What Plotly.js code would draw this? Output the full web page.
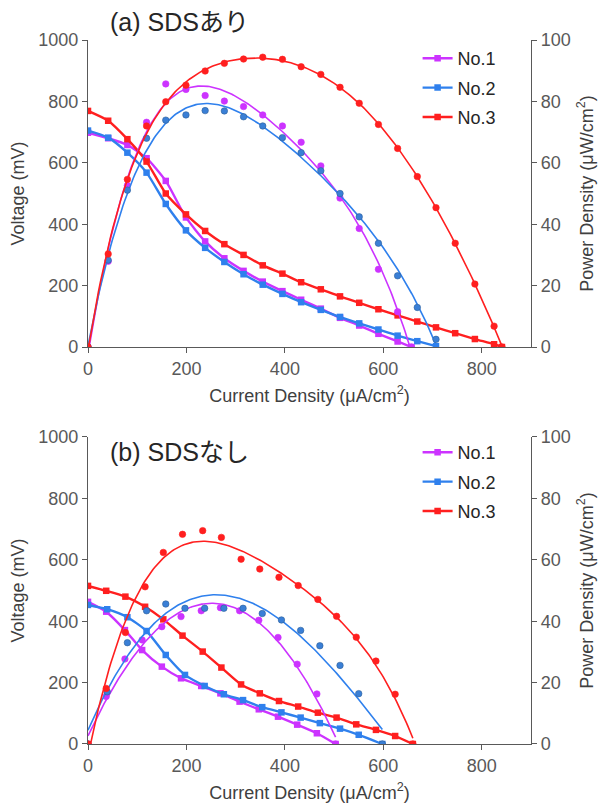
<!DOCTYPE html>
<html>
<head>
<meta charset="utf-8">
<script src="https://cdn.plot.ly/plotly-3.0.1.min.js"></script>
<style>html,body{margin:0;padding:0;background:#fff;}#chart{width:603px;height:807px;}</style>
</head>
<body>
<div id="chart"></div>
<script>
const seriesNames = ['No.1', 'No.2', 'No.3'];
const panelTitles = ['(a) SDSあり', '(b) SDSなし'];

// ---------- (a) SDSあり ----------
const a1Current = [0, 41, 80, 119, 158, 199, 238, 277, 316, 355, 395, 433, 473, 512, 551, 590, 629, 657];
const a1Voltage = [698, 680, 658, 615, 541, 422, 344, 289, 248, 213, 182, 154, 125, 95, 70, 43, 18, 0];
const a1Power   = [0, 27.9, 52.6, 73.2, 85.7, 83.9, 81.9, 80.1, 78.3, 75.6, 72.0, 66.7, 59.0, 48.5, 38.6, 25.3, 11.5, 0];

const a2Current = [0, 41, 80, 119, 158, 199, 238, 277, 316, 355, 395, 433, 473, 512, 551, 590, 629, 669, 707];
const a2Voltage = [705, 682, 633, 568, 466, 380, 323, 277, 237, 203, 173, 146, 121, 98, 77, 57, 37, 19, 3];
const a2Power   = [0, 28.3, 51.1, 68.0, 73.9, 75.6, 77.0, 76.9, 75.0, 72.0, 68.2, 63.3, 57.4, 50.0, 42.4, 33.8, 23.2, 12.9, 2.5];

const a3Current = [0, 41, 80, 119, 158, 199, 238, 277, 316, 355, 395, 433, 473, 512, 551, 590, 629, 669, 707, 746, 786, 825, 841];
const a3Voltage = [769, 737, 677, 604, 500, 432, 378, 335, 300, 266, 239, 211, 188, 165, 144, 123, 103, 83, 64, 45, 26, 9, 0];
const a3Power   = [0, 30.3, 54.6, 72.0, 79.9, 85.3, 89.9, 92.4, 93.8, 94.4, 93.7, 91.3, 88.8, 84.6, 79.4, 72.5, 64.7, 55.5, 45.4, 33.8, 20.5, 6.8, 0];

// ---------- (b) SDSなし ----------
const b1Current = [0, 37, 75, 110, 150, 189, 230, 269, 308, 347, 386, 425, 465, 503];
const b1Voltage = [463, 431, 371, 306, 252, 214, 189, 165, 138, 113, 89, 63, 35, 0];
const b1Power   = [0, 15.5, 27.7, 33.9, 38.2, 41.5, 43.4, 44.4, 43.4, 40.3, 34.7, 26.0, 16.3, 0];

const b2Current = [0, 39, 80, 119, 158, 197, 237, 276, 315, 354, 393, 432, 471, 512, 550, 598];
const b2Voltage = [453, 439, 413, 368, 290, 225, 189, 162, 143, 120, 103, 86, 68, 50, 30, 0];
const b2Power   = [0, 17.0, 33.0, 43.4, 45.6, 44.2, 44.2, 44.2, 44.2, 42.5, 40.4, 37.0, 32.0, 25.6, 16.4, 0];

const b3Current = [0, 37, 76, 116, 153, 192, 233, 271, 311, 349, 388, 427, 467, 505, 545, 585, 624, 660];
const b3Voltage = [515, 499, 480, 447, 406, 353, 301, 249, 194, 165, 140, 122, 102, 86, 64, 46, 26, 0];
const b3Power   = [0, 18.1, 36.3, 51.2, 62.4, 68.3, 69.5, 67.3, 60.2, 57.0, 54.3, 51.6, 47.1, 41.6, 34.8, 27.0, 16.2, 0];

const xTicks = [0, 200, 400, 600, 800];
const vTicks = [0, 200, 400, 600, 800, 1000];
const pTicks = [0, 20, 40, 60, 80, 100];

const colors = ['#cc33ff', '#2f80ed', '#ff1f1f'];
const dotColors = ['#cc33ff', '#3a7fd6', '#ff1f1f'];
const dotEdge = ['#cc33ff', '#2d5f99', '#ff1f1f'];

// Least-squares polynomial trendline (as a spreadsheet trendline)
function polyFit(xs, ys, deg) {
  const s = 1000;
  const n = deg + 1;
  const A = Array.from({length: n}, () => new Array(n + 1).fill(0));
  for (let k = 0; k < xs.length; k++) {
    const x = xs[k] / s;
    const pw = [];
    for (let i = 0; i <= 2 * deg; i++) pw.push(Math.pow(x, i));
    for (let r = 0; r < n; r++) {
      for (let c = 0; c < n; c++) A[r][c] += pw[r + c];
      A[r][n] += ys[k] * pw[r];
    }
  }
  for (let c = 0; c < n; c++) {
    let p = c;
    for (let r = c + 1; r < n; r++) if (Math.abs(A[r][c]) > Math.abs(A[p][c])) p = r;
    [A[c], A[p]] = [A[p], A[c]];
    for (let r = 0; r < n; r++) {
      if (r === c) continue;
      const f = A[r][c] / A[c][c];
      for (let k = c; k <= n; k++) A[r][k] -= f * A[c][k];
    }
  }
  const coef = A.map((row, i) => row[n] / row[i]);
  return function (xv) {
    const x = xv / s;
    let y = 0;
    for (let i = 0; i < n; i++) y += coef[i] * Math.pow(x, i);
    return y;
  };
}

const panels = [
  {cur: [a1Current, a2Current, a3Current], volt: [a1Voltage, a2Voltage, a3Voltage], pow: [a1Power, a2Power, a3Power],
   xa: 'x', ya: 'y', ya2: 'y2', legend: 'legend', deg: [4, 4, 6]},
  {cur: [b1Current, b2Current, b3Current], volt: [b1Voltage, b2Voltage, b3Voltage], pow: [b1Power, b2Power, b3Power],
   xa: 'x2', ya: 'y3', ya2: 'y4', legend: 'legend2', deg: [3, 3, 4]}
];

const traces = [];
panels.forEach((pn) => {
  for (let i = 0; i < 3; i++) {
    const f = polyFit(pn.cur[i], pn.pow[i], pn.deg[i]);
    const maxI = pn.cur[i][pn.cur[i].length - 1];
    const fx = [], fy = [];
    for (let k = 0; k <= 200; k++) { const xv = maxI * k / 200; fx.push(xv); fy.push(f(xv)); }
    traces.push({x: fx, y: fy, xaxis: pn.xa, yaxis: pn.ya2, mode: 'lines', showlegend: false,
      line: {color: colors[i], width: 1.6}, hoverinfo: 'skip'});
    traces.push({x: pn.cur[i], y: pn.pow[i], xaxis: pn.xa, yaxis: pn.ya2, mode: 'markers', showlegend: false,
      marker: {color: dotColors[i], size: 6.5, symbol: 'circle', line: {color: dotEdge[i], width: 0.6}}});
  }
  for (let i = 0; i < 3; i++) {
    traces.push({x: pn.cur[i], y: pn.volt[i], xaxis: pn.xa, yaxis: pn.ya, mode: 'lines+markers',
      name: seriesNames[i], legend: pn.legend, legendgroup: pn.legend + i,
      line: {color: colors[i], width: 2.4, shape: 'spline', smoothing: 0.6},
      marker: {color: colors[i], size: 6.5, symbol: 'square'}});
  }
});

const tickFont = {family: 'Liberation Sans, Arial, sans-serif', size: 18, color: '#595959'};
const titleFont = {family: 'Liberation Sans, Arial, sans-serif', size: 18, color: '#404040'};
const axisCommon = {showgrid: false, zeroline: false, showline: true, linecolor: '#595959', linewidth: 1.2,
  ticks: 'outside', ticklen: 5, tickcolor: '#595959', tickfont: tickFont, fixedrange: true, automargin: false};

const topDom = [0.5639, 1];
const botDom = [0, 0.4361];

function xAxis(anchor) {
  return Object.assign({}, axisCommon, {range: [0, 900], tickvals: xTicks, anchor: anchor, domain: [0, 1],
    title: {text: 'Current Density (μA/cm<sup>2</sup>)', font: titleFont, standoff: 11}});
}
function vAxis(anchor, dom) {
  return Object.assign({}, axisCommon, {range: [0, 1000], tickvals: vTicks, anchor: anchor, domain: dom,
    title: {text: 'Voltage (mV)', font: titleFont, standoff: 8}});
}
function pAxis(anchor, over, dom) {
  return Object.assign({}, axisCommon, {range: [0, 100], tickvals: pTicks, anchor: anchor, overlaying: over, side: 'right', domain: dom,
    title: {text: 'Power Density (μW/cm<sup>2</sup>)', font: titleFont, standoff: 10}});
}

const legendCommon = {font: {family: 'Liberation Sans, Arial, sans-serif', size: 18, color: '#262626'},
  bgcolor: 'rgba(0,0,0,0)', xanchor: 'left', yanchor: 'top', traceorder: 'grouped', tracegroupgap: 3, itemwidth: 30};

const titleAnnFont = {family: 'Liberation Sans, Noto Sans CJK JP, sans-serif', size: 25, color: '#262626'};

const layout = {
  width: 603, height: 807,
  margin: {l: 88, r: 72, t: 40, b: 63},
  paper_bgcolor: '#ffffff', plot_bgcolor: '#ffffff',
  showlegend: true,
  xaxis: xAxis('y'),
  yaxis: vAxis('x', topDom),
  yaxis2: pAxis('x', 'y', topDom),
  xaxis2: xAxis('y3'),
  yaxis3: vAxis('x2', botDom),
  yaxis4: pAxis('x2', 'y3', botDom),
  legend: Object.assign({}, legendCommon, {x: 0.744, y: 1.0}),
  legend2: Object.assign({}, legendCommon, {x: 0.744, y: 0.4403}),
  annotations: [
    {text: panelTitles[0], xref: 'paper', yref: 'paper', x: 0.045, y: 1.0256, xanchor: 'left', yanchor: 'middle', showarrow: false, font: titleAnnFont},
    {text: panelTitles[1], xref: 'paper', yref: 'paper', x: 0.045, y: 0.4148, xanchor: 'left', yanchor: 'middle', showarrow: false, font: titleAnnFont}
  ]
};

Plotly.newPlot('chart', traces, layout, {displayModeBar: false, staticPlot: true});
</script>
</body>
</html>
